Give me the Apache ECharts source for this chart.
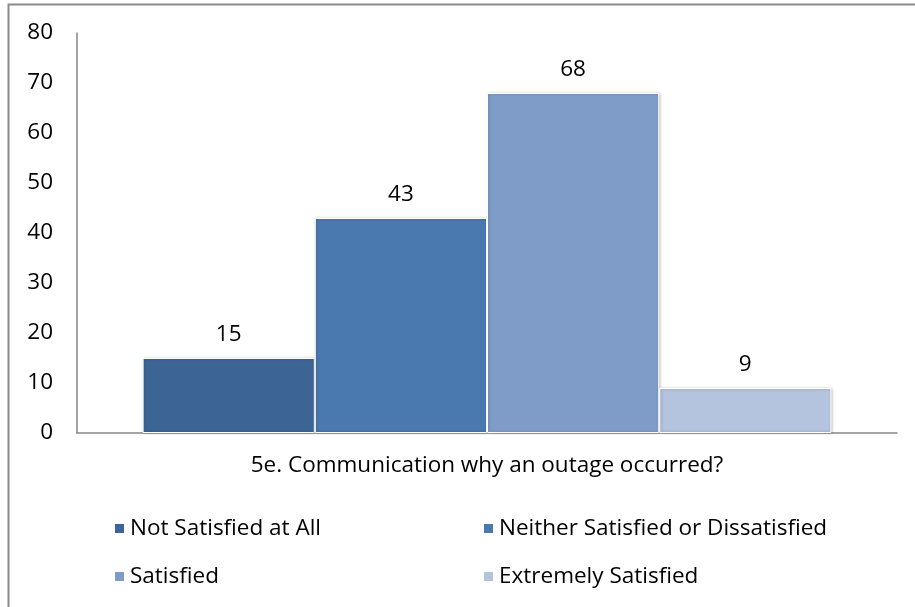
<!DOCTYPE html>
<html>
<head>
<meta charset="utf-8">
<script src="https://cdn.jsdelivr.net/npm/echarts@6/dist/echarts.min.js"></script>
<style>html,body{margin:0;padding:0;background:#fff}#c{width:915px;height:607px}</style>
</head>
<body>
<div id="c"></div>
<script>
var categories = ['5e. Communication why an outage occurred?'];
var seriesNames = ['Not Satisfied at All', 'Neither Satisfied or Dissatisfied', 'Satisfied', 'Extremely Satisfied'];
var seriesValues = [[15], [43], [68], [9]];
var yTicks = [0, 10, 20, 30, 40, 50, 60, 70, 80];

var colors = ['#3C6595', '#4A79B0', '#7F9CC8', '#B4C3DE'];
var FONT = 'Open Sans';
var FS = 22.5;
var chart = echarts.init(document.getElementById('c'), null, {renderer: 'canvas'});

var legendPos = [
  {left: 108, top: 512},
  {left: 477, top: 512},
  {left: 108, top: 560},
  {left: 477, top: 560}
];

var option = {
  animation: false,
  color: colors,
  textStyle: {fontFamily: FONT},
  graphic: [{
    type: 'rect',
    shape: {x: 8.5, y: 4.5, width: 1000, height: 700},
    style: {fill: 'none', stroke: '#8a8a8a', lineWidth: 2},
    silent: true,
    z: -10
  }],
  grid: {left: 77, right: 18, top: 33, bottom: 174, containLabel: false},
  legend: seriesNames.map(function (n, i) {
    return {
      data: [n],
      left: legendPos[i].left,
      top: legendPos[i].top,
      orient: 'horizontal',
      icon: 'rect',
      itemWidth: 11,
      itemHeight: 11,
      itemGap: 0,
      textStyle: {fontFamily: FONT, fontSize: FS, color: '#000'},
      selectedMode: false
    };
  }),
  xAxis: {
    type: 'category',
    data: categories,
    axisLine: {lineStyle: {color: '#868686', width: 1.5}},
    axisTick: {show: false},
    axisLabel: {fontFamily: FONT, fontSize: FS, color: '#000', margin: 21}
  },
  yAxis: {
    type: 'value',
    min: yTicks[0],
    max: yTicks[yTicks.length - 1],
    interval: 10,
    axisLine: {show: true, lineStyle: {color: '#868686', width: 1.5}},
    axisTick: {show: false},
    splitLine: {show: false},
    axisLabel: {fontFamily: FONT, fontSize: FS, color: '#000', margin: 24}
  },
  series: seriesNames.map(function (n, i) {
    return {
      name: n,
      type: 'bar',
      data: seriesValues[i],
      barGap: '0%',
      barCategoryGap: '16%',
      itemStyle: {
        color: colors[i],
        borderColor: '#ffffff',
        borderWidth: 1,
        shadowBlur: 3,
        shadowColor: 'rgba(0,0,0,0.25)',
        shadowOffsetX: 1,
        shadowOffsetY: 0
      },
      label: {
        show: true,
        position: 'top',
        distance: 12,
        fontFamily: FONT,
        fontSize: FS,
        color: '#000'
      }
    };
  })
};
chart.setOption(option);
</script>
</body>
</html>
